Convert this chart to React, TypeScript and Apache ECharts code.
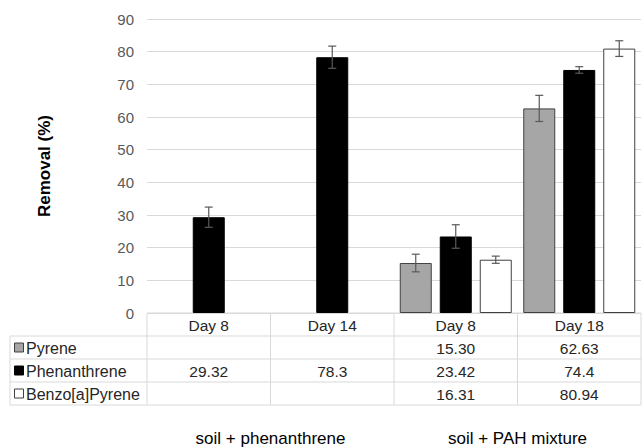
import React, { useEffect, useRef } from "react";
import * as echarts from "echarts";

const categories = ["Day 8", "Day 14", "Day 8", "Day 18"];
const groupLabels = ["soil + phenanthrene", "soil + PAH mixture"];
const seriesNames = ["Pyrene", "Phenanthrene", "Benzo[a]Pyrene"];
const pyrene: (number | null)[] = [null, null, 15.3, 62.63];
const phenanthrene: (number | null)[] = [29.32, 78.3, 23.42, 74.4];
const benzo: (number | null)[] = [null, null, 16.31, 80.94];
const pyreneErr: (number | null)[] = [null, null, 2.7, 4.0];
const phenanthreneErr: (number | null)[] = [3.1, 3.4, 3.6, 1.0];
const benzoErr: (number | null)[] = [null, null, 1.1, 2.4];
const tableText: string[][] = [
  ["", "", "15.30", "62.63"],
  ["29.32", "78.3", "23.42", "74.4"],
  ["", "", "16.31", "80.94"],
];
const yTicks = { min: 0, max: 90, interval: 10 };

const fills = ["#a6a6a6", "#000000", "#ffffff"];
const borders = ["#404040", "#000000", "#404040"];
const FONT = "Liberation Sans, Arial, sans-serif";

export default function App() {
  const ref = useRef<HTMLDivElement>(null);
  useEffect(() => {
    if (!ref.current) return;
    const chart = echarts.init(ref.current, null, { renderer: "svg" });
    const values = [pyrene, phenanthrene, benzo];
    const errs = [pyreneErr, phenanthreneErr, benzoErr];
    const BW = 32;
    const GAP = 8;
    const gridLeft = 147;
    const gridRight = 2;
    const gridTop = 19;
    const gridBottom = 135;

    const barSeries = seriesNames.map((name, i) => ({
      name,
      type: "bar",
      data: values[i],
      barWidth: BW,
      barGap: "25%",
      itemStyle: { color: fills[i], borderColor: borders[i], borderWidth: 1 },
      z: 2,
    }));

    const errSeries = seriesNames.map((name, i) => ({
      name: name + " err",
      type: "custom",
      z: 5,
      data: values[i]
        .map((v, k) => (v == null ? null : [k, v, errs[i][k]]))
        .filter((d) => d != null),
      encode: { x: 0, y: 1 },
      renderItem: (params: any, api: any) => {
        const k = api.value(0);
        const v = api.value(1);
        const e = api.value(2);
        const off = (i - 1) * (BW + GAP);
        const hi = api.coord([k, v + e]);
        const lo = api.coord([k, v - e]);
        const x = hi[0] + off;
        const style = { stroke: "#595959", lineWidth: 1.2 };
        return {
          type: "group",
          children: [
            { type: "line", shape: { x1: x, y1: hi[1], x2: x, y2: lo[1] }, style },
            { type: "line", shape: { x1: x - 4, y1: hi[1], x2: x + 4, y2: hi[1] }, style },
            { type: "line", shape: { x1: x - 4, y1: lo[1], x2: x + 4, y2: lo[1] }, style },
          ],
        };
      },
    }));

    chart.setOption({
      animation: false,
      grid: { left: gridLeft, right: gridRight, top: gridTop, bottom: gridBottom },
      xAxis: {
        type: "category",
        data: categories,
        axisLine: { show: false },
        axisTick: { show: false },
        axisLabel: { show: false },
      },
      yAxis: {
        type: "value",
        min: yTicks.min,
        max: yTicks.max,
        interval: yTicks.interval,
        axisLine: { show: false },
        axisTick: { show: false },
        axisLabel: { color: "#595959", fontSize: 15, fontFamily: FONT, margin: 13 },
        splitLine: { lineStyle: { color: "#d9d9d9", width: 1 } },
        name: "Removal (%)",
        nameLocation: "middle",
        nameGap: 94,
        nameTextStyle: { fontSize: 17, fontWeight: "bold", color: "#000", fontFamily: FONT },
      },
      series: [...barSeries, ...errSeries],
    });

    // Data table under the plot, positioned from the axis scale
    const centers = categories.map((_, k) => chart.convertToPixel({ xAxisIndex: 0 }, k) as number);
    const colW = centers.length > 1 ? centers[1] - centers[0] : 124;
    const tableTop = chart.convertToPixel({ yAxisIndex: 0 }, 0) as number;
    const rowH = 23;
    const xL = 10;
    const x0 = centers[0] - colW / 2;
    const x1 = centers[centers.length - 1] + colW / 2;
    const lineStyle = { stroke: "#d9d9d9", lineWidth: 1 };
    const g: any[] = [];
    g.push({ type: "line", shape: { x1: x0, y1: tableTop, x2: x1, y2: tableTop }, style: lineStyle });
    for (let r = 1; r <= 4; r++) {
      const y = tableTop + r * rowH;
      g.push({ type: "line", shape: { x1: xL, y1: y, x2: x1, y2: y }, style: lineStyle });
    }
    g.push({ type: "line", shape: { x1: xL, y1: tableTop + rowH, x2: xL, y2: tableTop + 4 * rowH }, style: lineStyle });
    for (let c = 0; c <= categories.length; c++) {
      const x = x0 + c * colW;
      g.push({ type: "line", shape: { x1: x, y1: tableTop, x2: x, y2: tableTop + 4 * rowH }, style: lineStyle });
    }
    const txtStyle = { fontSize: 15.5, fontFamily: FONT, fill: "#262626", align: "center", verticalAlign: "middle" };
    categories.forEach((c, k) => {
      g.push({ type: "text", x: centers[k], y: tableTop + rowH / 2 + 1, style: { ...txtStyle, text: c } });
    });
    tableText.forEach((row, r) => {
      row.forEach((t, k) => {
        if (!t) return;
        g.push({ type: "text", x: centers[k], y: tableTop + (r + 1.5) * rowH + 1, style: { ...txtStyle, text: t } });
      });
      const yc = tableTop + (r + 1.5) * rowH;
      g.push({
        type: "rect",
        shape: { x: 14.5, y: yc - 4.5, width: 9, height: 9 },
        style: { fill: fills[r], stroke: borders[r], lineWidth: 1 },
      });
      g.push({
        type: "text",
        x: 26,
        y: yc + 1,
        style: { ...txtStyle, fontSize: 16, align: "left", text: seriesNames[r] },
      });
    });
    const gl1 = (centers[0] + centers[1]) / 2;
    const gl2 = (centers[2] + centers[3]) / 2;
    [gl1, gl2].forEach((x, k) => {
      g.push({
        type: "text",
        x,
        y: 438,
        style: { text: groupLabels[k], fontSize: 17, fontFamily: FONT, fill: "#000", align: "center", verticalAlign: "middle" },
      });
    });
    chart.setOption({ graphic: g });

    return () => chart.dispose();
  }, []);
  return (
    <div
      ref={ref}
      style={{ position: "fixed", left: 0, top: 0, width: 643, height: 448, background: "#fff" }}
    />
  );
}
